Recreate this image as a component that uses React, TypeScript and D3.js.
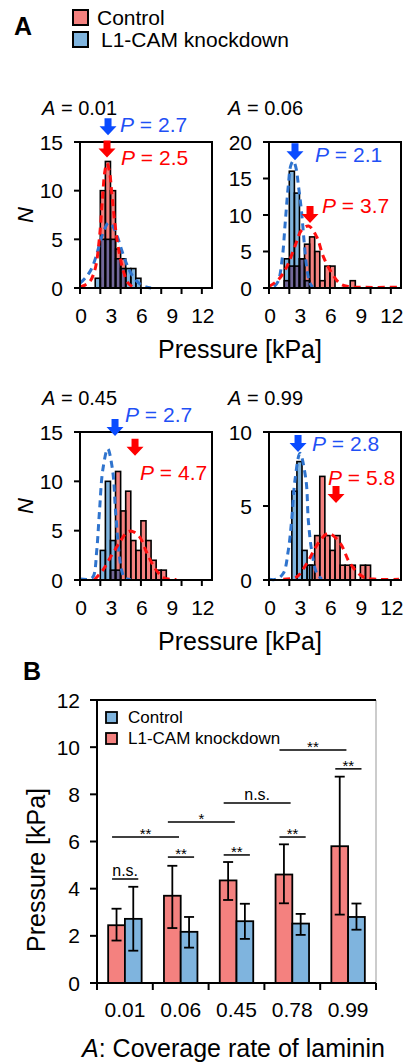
import React, { useEffect, useRef } from 'react'
import * as d3 from 'd3'

const W = 408
const H = 1062
const FONT = '"Liberation Sans", Arial, Helvetica, sans-serif'

// ---------- panel A: histograms, bins 0.5 kPa wide (lower edge) ----------
const binsA1 = [1.5, 2, 2.5, 3, 3.5, 4, 4.5, 5, 5.5]
const ctrlA1 = [0, 10, 13, 10, 4, 3, 0, 0, 0]
const kdA1 = [1, 5, 5, 5, 3, 2, 2, 2, 1]

const binsA2 = [1, 1.5, 2, 2.5, 3, 3.5, 4, 4.5, 5, 5.5, 6, 6.5, 7, 7.5, 8]
const ctrlA2 = [0, 1, 3, 3, 4, 6, 7, 5, 1, 3, 3, 0, 0, 0, 1]
const kdA2 = [0, 4, 16, 13, 4, 1, 0, 0, 0, 0, 0, 0, 0, 0, 0]

const binsA3 = [2, 2.5, 3, 3.5, 4, 4.5, 5, 5.5, 6, 6.5, 7, 7.5, 8]
const ctrlA3 = [0, 0, 1, 11, 7, 9, 4, 3, 6, 4, 2, 1, 1]
const kdA3 = [3, 10, 4, 1, 0, 0, 0, 0, 0, 0, 0, 0, 0]

// in the last panel the knockdown histogram sits on shifted bin edges
const binsA4 = [4, 4.5, 5, 5.5, 6, 6.5, 7, 7.5, 8, 8.5, 9, 9.5]
const ctrlA4 = [1, 3, 7, 3, 2, 3, 1, 1, 1, 0, 1, 1]
const binsKdA4 = [2.25, 2.75, 3.25, 3.75]
const kdA4 = [6, 8, 2, 1]

// fitted curves, points [kPa, N]
const fitCtrlA1: [number, number][] = [[0, 0.1], [0.5, 0.3], [1, 0.7], [1.5, 2], [1.9, 5], [2.2, 9], [2.45, 12], [2.65, 12.8], [2.9, 12], [3.15, 9.5], [3.45, 6.5], [3.8, 4], [4.25, 1.8], [4.75, 0.5], [5.2, 0.1]]
const fitKdA1: [number, number][] = [[0, 0.5], [0.5, 1], [1.1, 1.9], [1.6, 3.3], [2, 4.8], [2.4, 6], [2.8, 6.7], [3.2, 6.4], [3.7, 5.2], [4.2, 3.6], [4.7, 2.2], [5.2, 1.2], [5.8, 0.5], [6.5, 0.1], [7, 0]]
const fitCtrlA2: [number, number][] = [[0, 0.2], [0.9, 1.1], [1.75, 2.9], [2.55, 5.7], [3.2, 7.9], [3.9, 8.5], [4.7, 7], [5.35, 4.3], [6.2, 2], [7, 0.6], [7.8, 0.2], [9, 0.1], [12.8, 0.1]]
const fitKdA2: [number, number][] = [[0.5, 0.2], [0.9, 0.9], [1.3, 4], [1.6, 9], [1.9, 14], [2.15, 16.8], [2.4, 17.4], [2.65, 16.5], [2.9, 14], [3.2, 10.5], [3.45, 6.5], [3.7, 3], [4, 0.8], [4.3, 0.1]]
const fitCtrlA3: [number, number][] = [[1.4, 0], [2.25, 1], [3.05, 2.4], [3.9, 3.8], [4.6, 4.8], [5.1, 4.95], [5.85, 4.4], [6.65, 2.6], [7.5, 1], [8.3, 0.2], [9.5, 0.05]]
const fitKdA3: [number, number][] = [[0, 0.1], [1, 0.1], [1.33, 0.4], [1.65, 3], [1.92, 7], [2.25, 11.2], [2.73, 13.3], [3.2, 11.2], [3.5, 7], [3.82, 3], [4.1, 1], [4.4, 0.2], [5, 0.05]]
const fitCtrlA4: [number, number][] = [[1.4, 0.05], [2.7, 0.2], [3.7, 1.1], [4.86, 2.5], [5.84, 3.15], [7, 2.5], [8, 1.1], [9.3, 0.2], [10.6, 0.05], [12.8, 0.05]]
const fitKdA4: [number, number][] = [[0, 0.05], [0.7, 0.05], [1.41, 0.45], [1.9, 2], [2.23, 4.05], [2.56, 6.76], [3.05, 8.56], [3.64, 6.76], [3.87, 4.05], [4.2, 2], [4.7, 0.45], [5.2, 0.05]]

const titlesA = ['0.01', '0.06', '0.45', '0.99']
const pCtrlA = ['2.5', '3.7', '4.7', '5.8']
const pKdA = ['2.7', '2.1', '2.7', '2.8']
// arrow tips [kPa, N]
const arrowCtrlA: [number, number][] = [[2.66, 13.4], [4.04, 8.9], [5.42, 12.6], [6.6, 5.2]]
const arrowKdA: [number, number][] = [[2.76, 15.7], [2.56, 17.5], [3.45, 14.6], [2.86, 8.65]]
const yMaxA = [15, 20, 15, 10]
const xTicksA = [0, 3, 6, 9, 12]

// ---------- panel B ----------
const catsB = ['0.01', '0.06', '0.45', '0.78', '0.99']
const seriesB = ['Control', 'L1-CAM knockdown']
const redMean = [2.45, 3.7, 4.35, 4.6, 5.8]
const redLo = [1.8, 2.33, 3.52, 3.38, 2.9]
const redHi = [3.15, 4.97, 5.13, 5.88, 8.75]
const blueMean = [2.72, 2.17, 2.62, 2.52, 2.8]
const blueLo = [1.37, 1.5, 1.87, 2.04, 2.26]
const blueHi = [4.08, 2.8, 3.36, 2.93, 3.37]
const sigFrom = [0, 1, 2, 3, 4, 0, 1, 2, 3]
const sigTo = [0, 1, 2, 3, 4, 1, 2, 3, 4]
const sigY = [4.41, 5.34, 5.43, 6.19, 9.08, 6.19, 6.83, 7.63, 9.88]
const sigLabel = ['n.s.', '**', '**', '**', '**', '**', '*', 'n.s.', '**']

const RED = '#F4817F'
const BLUE = '#7FB4DE'
const MIX = '#726899'

const layoutA = [
  { left: 80, top: 142, bottom: 288, titleX: 42, titleY: 115, kdX: 120, kdY: 132, ctX: 121, ctY: 165 },
  { left: 269, top: 142, bottom: 288, titleX: 228, titleY: 115, kdX: 315, kdY: 162, ctX: 322, ctY: 213 },
  { left: 80, top: 432, bottom: 580, titleX: 42, titleY: 405, kdX: 125, kdY: 422, ctX: 140, ctY: 480 },
  { left: 269, top: 432, bottom: 580, titleX: 228, titleY: 405, kdX: 312, kdY: 451, ctX: 328, ctY: 485 },
]

function italicText(g: any, x: number, y: number, it: string, rest: string, size: number, color = '#000') {
  const t = g.append('text').attr('x', x).attr('y', y).attr('font-size', size).attr('fill', color)
  t.append('tspan').attr('font-style', 'italic').text(it)
  t.append('tspan').text(rest)
  return t
}

function arrow(g: any, cx: number, tip: number, color: string) {
  const p = d3.path()
  p.moveTo(cx - 3.5, tip - 17)
  p.lineTo(cx + 3.5, tip - 17)
  p.lineTo(cx + 3.5, tip - 9)
  p.lineTo(cx + 8.5, tip - 9)
  p.lineTo(cx, tip)
  p.lineTo(cx - 8.5, tip - 9)
  p.lineTo(cx - 3.5, tip - 9)
  p.closePath()
  g.append('path').attr('d', p.toString()).attr('fill', color)
}

// turn a histogram into a lookup of lower edge -> count
function toMap(bins: number[], vals: number[]) {
  const m = new Map<number, number>()
  bins.forEach((b, i) => m.set(b, vals[i]))
  return m
}

export default function App() {
  const ref = useRef<SVGSVGElement>(null)

  useEffect(() => {
    const svg = d3.select(ref.current)
    svg.selectAll('*').remove()
    const g = svg.append('g').attr('font-family', FONT)

    // ---- A label + legend
    g.append('text').attr('x', 14).attr('y', 35).attr('font-size', 25).attr('font-weight', 'bold').text('A')
    g.append('rect').attr('x', 73).attr('y', 10).attr('width', 15).attr('height', 15).attr('fill', RED).attr('stroke', '#000').attr('stroke-width', 2)
    g.append('rect').attr('x', 73).attr('y', 32).attr('width', 15).attr('height', 15).attr('fill', BLUE).attr('stroke', '#000').attr('stroke-width', 2)
    g.append('text').attr('x', 97).attr('y', 25).attr('font-size', 21).text('Control')
    g.append('text').attr('x', 101).attr('y', 47).attr('font-size', 21).text('L1-CAM knockdown')

    const ctrlBins = [binsA1, binsA2, binsA3, binsA4]
    const kdBins = [binsA1, binsA2, binsA3, binsKdA4]
    const ctrlAll = [ctrlA1, ctrlA2, ctrlA3, ctrlA4]
    const kdAll = [kdA1, kdA2, kdA3, kdA4]
    const fitCtrlAll = [fitCtrlA1, fitCtrlA2, fitCtrlA3, fitCtrlA4]
    const fitKdAll = [fitKdA1, fitKdA2, fitKdA3, fitKdA4]

    layoutA.forEach((L, k) => {
      const x = d3.scaleLinear().domain([0, 13]).range([L.left, L.left + 132])
      const y = d3.scaleLinear().domain([0, yMaxA[k]]).range([L.bottom, L.top])
      const pg = g.append('g')
      const bw = 0.5

      const cRows = ctrlBins[k].map((b, i) => ({ b, v: ctrlAll[k][i] })).filter(r => r.v > 0)
      const kRows = kdBins[k].map((b, i) => ({ b, v: kdAll[k][i] })).filter(r => r.v > 0)
      const kMap = toMap(kdBins[k], kdAll[k])
      const mRows = cRows.map(r => ({ b: r.b, v: Math.min(r.v, kMap.get(r.b) || 0) })).filter(r => r.v > 0)

      const barRect = (sel: any) => sel
        .attr('x', (r: any) => x(r.b))
        .attr('width', (r: any) => x(r.b + bw) - x(r.b))
        .attr('y', (r: any) => y(r.v))
        .attr('height', (r: any) => L.bottom - y(r.v))

      pg.append('g').selectAll('rect').data(cRows).join('rect').call(barRect).attr('fill', RED)
      pg.append('g').selectAll('rect').data(kRows).join('rect').call(barRect).attr('fill', BLUE)
      pg.append('g').selectAll('rect').data(mRows).join('rect').call(barRect).attr('fill', MIX)
      pg.append('g').selectAll('rect').data(cRows).join('rect').call(barRect).attr('fill', 'none').attr('stroke', '#000').attr('stroke-width', 1.6)
      pg.append('g').selectAll('rect').data(kRows).join('rect').call(barRect).attr('fill', 'none').attr('stroke', '#000').attr('stroke-width', 1.6)

      const line = d3.line<[number, number]>().x(d => x(d[0])).y(d => y(d[1])).curve(d3.curveCatmullRom)
      pg.append('path').attr('d', line(fitKdAll[k])).attr('fill', 'none').attr('stroke', '#2F74CE').attr('stroke-width', 3).attr('stroke-dasharray', '7,5')
      pg.append('path').attr('d', line(fitCtrlAll[k])).attr('fill', 'none').attr('stroke', '#FF1010').attr('stroke-width', 3).attr('stroke-dasharray', '7,5')

      // frame
      const x0 = L.left, x1 = L.left + 132
      pg.append('rect').attr('x', x0).attr('y', L.top).attr('width', x1 - x0).attr('height', L.bottom - L.top).attr('fill', 'none').attr('stroke', '#000').attr('stroke-width', 2)

      // y axis
      d3.range(0, yMaxA[k] + 1, 5).forEach(v => {
        pg.append('line').attr('x1', x0 - 6).attr('x2', x0).attr('y1', y(v)).attr('y2', y(v)).attr('stroke', '#000').attr('stroke-width', 2)
        pg.append('text').attr('x', x0 - 17).attr('y', y(v)).attr('dy', '0.36em').attr('text-anchor', 'end').attr('font-size', 21).text(v)
      })
      // x axis
      d3.range(0, 13, 2).forEach(v => {
        pg.append('line').attr('x1', x(v)).attr('x2', x(v)).attr('y1', L.bottom).attr('y2', L.bottom + 6).attr('stroke', '#000').attr('stroke-width', 2)
      })
      xTicksA.forEach(v => {
        pg.append('text').attr('x', x(v) + 1).attr('y', L.bottom + 35).attr('text-anchor', 'middle').attr('font-size', 21).text(v)
      })

      italicText(pg, L.titleX, L.titleY, 'A', ' = ' + titlesA[k], 20)
      arrow(pg, x(arrowKdA[k][0]), y(arrowKdA[k][1]), '#0A4BFF')
      arrow(pg, x(arrowCtrlA[k][0]), y(arrowCtrlA[k][1]), '#FF0000')
      italicText(pg, L.kdX, L.kdY, 'P', ' = ' + pKdA[k], 21, '#1F50F5')
      italicText(pg, L.ctX, L.ctY, 'P', ' = ' + pCtrlA[k], 21, '#FF0000')

      if (k % 2 === 0) {
        pg.append('text').attr('transform', `translate(33,${(L.top + L.bottom) / 2}) rotate(-90)`)
          .attr('text-anchor', 'middle').attr('font-size', 22).attr('font-style', 'italic').text('N')
      } else {
        pg.append('text').attr('x', 240).attr('y', L.bottom + 70).attr('text-anchor', 'middle').attr('font-size', 25).text('Pressure [kPa]')
      }
    })

    // ---- panel B
    g.append('text').attr('x', 23).attr('y', 680).attr('font-size', 25).attr('font-weight', 'bold').text('B')
    const yB = d3.scaleLinear().domain([0, 12]).range([983, 700])
    const xB = d3.scaleBand().domain(catsB).range([97, 376]).padding(0)
    const bw = xB.bandwidth()
    const sub = d3.scaleBand().domain(['red', 'blue']).range([0.2 * bw, 0.8 * bw]).padding(0)
    const gb = g.append('g')

    const groups = [
      { key: 'red', mean: redMean, lo: redLo, hi: redHi, fill: RED },
      { key: 'blue', mean: blueMean, lo: blueLo, hi: blueHi, fill: BLUE },
    ]
    groups.forEach(s => {
      catsB.forEach((c, i) => {
        const bx = (xB(c) as number) + (sub(s.key) as number)
        gb.append('rect').attr('x', bx).attr('y', yB(s.mean[i])).attr('width', sub.bandwidth()).attr('height', 983 - yB(s.mean[i]))
          .attr('fill', s.fill).attr('stroke', '#000').attr('stroke-width', 1.8)
      })
    })
    groups.forEach(s => {
      catsB.forEach((c, i) => {
        const cx = (xB(c) as number) + (sub(s.key) as number) + sub.bandwidth() / 2
        gb.append('line').attr('x1', cx).attr('x2', cx).attr('y1', yB(s.lo[i])).attr('y2', yB(s.hi[i])).attr('stroke', '#000').attr('stroke-width', 1.8)
        ;[s.lo[i], s.hi[i]].forEach(v => {
          gb.append('line').attr('x1', cx - 5).attr('x2', cx + 5).attr('y1', yB(v)).attr('y2', yB(v)).attr('stroke', '#000').attr('stroke-width', 1.8)
        })
      })
    })

    // significance
    sigY.forEach((v, i) => {
      const a = xB(catsB[sigFrom[i]]) as number
      const b = xB(catsB[sigTo[i]]) as number
      const x1 = a + 0.27 * bw
      const x2 = sigFrom[i] === sigTo[i] ? b + 0.74 * bw : b + 0.47 * bw
      const yy = yB(v)
      gb.append('line').attr('x1', x1).attr('x2', x2).attr('y1', yy).attr('y2', yy).attr('stroke', '#000').attr('stroke-width', 1.5)
      const ns = sigLabel[i] === 'n.s.'
      gb.append('text').attr('x', (x1 + x2) / 2).attr('y', ns ? yy - 3 : yy + 2).attr('text-anchor', 'middle')
        .attr('font-size', ns ? 16 : 15).text(sigLabel[i])
    })

    // axes B
    gb.append('line').attr('x1', 376).attr('x2', 376).attr('y1', 700).attr('y2', 983).attr('stroke', '#999').attr('stroke-width', 1)
    gb.append('line').attr('x1', 96).attr('x2', 376).attr('y1', 700).attr('y2', 700).attr('stroke', '#000').attr('stroke-width', 2)
    gb.append('line').attr('x1', 97).attr('x2', 97).attr('y1', 700).attr('y2', 983).attr('stroke', '#000').attr('stroke-width', 2)
    gb.append('line').attr('x1', 96).attr('x2', 376).attr('y1', 983).attr('y2', 983).attr('stroke', '#000').attr('stroke-width', 2)
    yB.ticks(6).forEach(v => {
      gb.append('line').attr('x1', 90).attr('x2', 97).attr('y1', yB(v)).attr('y2', yB(v)).attr('stroke', '#000').attr('stroke-width', 2)
      gb.append('text').attr('x', 80).attr('y', yB(v)).attr('dy', '0.36em').attr('text-anchor', 'end').attr('font-size', 21).text(v)
    })
    ;[...catsB.map(c => xB(c) as number), 376].forEach(px => {
      gb.append('line').attr('x1', px).attr('x2', px).attr('y1', 983).attr('y2', 990).attr('stroke', '#000').attr('stroke-width', 2)
    })
    catsB.forEach(c => {
      gb.append('text').attr('x', (xB(c) as number) + bw / 2).attr('y', 1017).attr('text-anchor', 'middle').attr('font-size', 21).text(c)
    })
    italicText(gb, 82, 1057, 'A', ': Coverage rate of laminin', 25)
    gb.append('text').attr('transform', 'translate(45,870) rotate(-90)').attr('text-anchor', 'middle').attr('font-size', 25).text('Pressure [kPa]')

    // legend B
    const legFill = [BLUE, RED]
    seriesB.forEach((s, i) => {
      gb.append('rect').attr('x', 106).attr('y', 712 + i * 21).attr('width', 11).attr('height', 11).attr('fill', legFill[i]).attr('stroke', '#000').attr('stroke-width', 1.8)
      gb.append('text').attr('x', 128).attr('y', 723 + i * 21).attr('font-size', 17).text(s)
    })
  }, [])

  return (
    <svg ref={ref} width={W} height={H} style={{ position: 'absolute', left: 0, top: 0, background: '#fff' }} />
  )
}
